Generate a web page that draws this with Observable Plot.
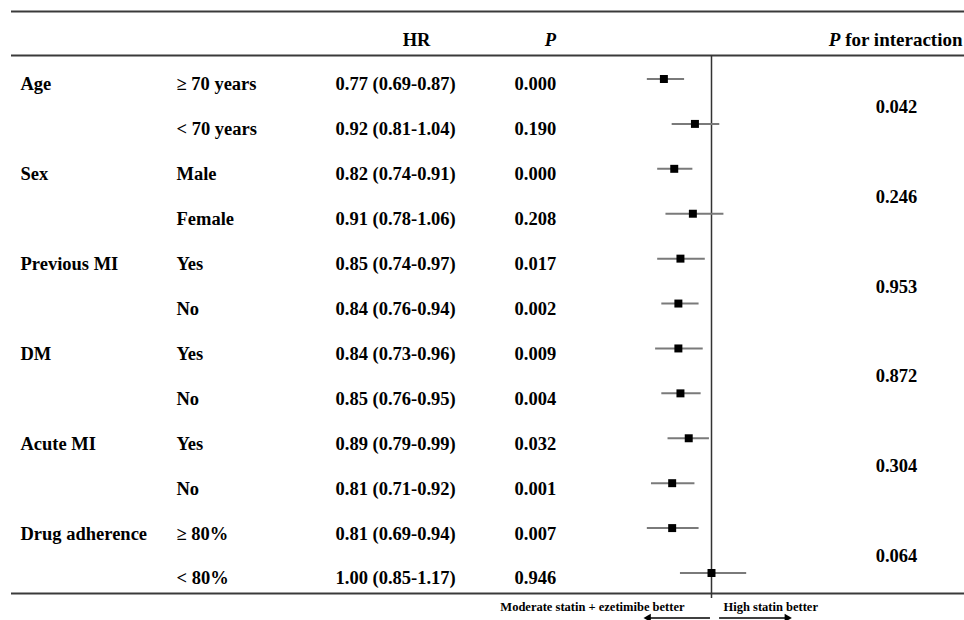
<!DOCTYPE html>
<html>
<head>
<meta charset="utf-8">
<script src="https://cdn.jsdelivr.net/npm/d3@7"></script>
<script src="https://cdn.jsdelivr.net/npm/@observablehq/plot@0.6"></script>
<style>
  html, body { margin: 0; padding: 0; background: #fff; }
  #chart svg { display: block; }
</style>
</head>
<body>
<div id="chart"></div>
<script>
// ---- Data ----
const groups = ["Age", "", "Sex", "", "Previous MI", "", "DM", "", "Acute MI", "", "Drug adherence", ""];
const subgroups = ["≥ 70 years", "< 70 years", "Male", "Female", "Yes", "No", "Yes", "No", "Yes", "No", "≥ 80%", "< 80%"];
const hr = [0.77, 0.92, 0.82, 0.91, 0.85, 0.84, 0.84, 0.85, 0.89, 0.81, 0.81, 1.00];
const lo = [0.69, 0.81, 0.74, 0.78, 0.74, 0.76, 0.73, 0.76, 0.79, 0.71, 0.69, 0.85];
const hi = [0.87, 1.04, 0.91, 1.06, 0.97, 0.94, 0.96, 0.95, 0.99, 0.92, 0.94, 1.17];
const pvals = ["0.000", "0.190", "0.000", "0.208", "0.017", "0.002", "0.009", "0.004", "0.032", "0.001", "0.007", "0.946"];
const pInteraction = ["0.042", "0.246", "0.953", "0.872", "0.304", "0.064"];
const headers = ["HR", "P", "P for interaction"];
const directionLabels = ["Moderate statin + ezetimibe better", "High statin better"];

// ---- Table built from arrays ----
const n = hr.length;
const last = n - 1;
const rows = hr.map((h, i) => ({
  i,
  group: groups[i],
  sub: subgroups[i],
  hr: h, lo: lo[i], hi: hi[i],
  hrText: `${h.toFixed(2)} (${lo[i].toFixed(2)}-${hi[i].toFixed(2)})`,
  p: pvals[i]
}));
const inter = pInteraction.map((p, k) => ({ y: 2 * k + 0.5, p }));

const FS = 18.5;
const textDy = 5.5;
const base = { fontWeight: "bold", fontSize: FS, dy: textDy, lineAnchor: "middle" };
const arrowY = last + 1.0;

const plot = Plot.plot({
  width: 964,
  height: 620,
  margin: 0,
  style: { fontFamily: "'Liberation Serif', 'Times New Roman', serif", color: "#000", background: "#fff", overflow: "visible" },
  x: { type: "linear", domain: [0.5, 1.5], range: [607.5, 814.5], axis: null },
  y: { type: "linear", domain: [0, last], range: [78.5, 572.5], axis: null },
  marks: [
    // table rules
    Plot.ruleY([-1.503, -0.523], { stroke: "#3a3a3a", strokeWidth: 2, insetLeft: 11 }),
    Plot.ruleY([last + 0.459], { stroke: "#3a3a3a", strokeWidth: 2, insetLeft: 11 }),
    // reference line at HR = 1
    Plot.ruleX([1], { y1: -0.523, y2: last + 0.57, stroke: "#333", strokeWidth: 1.5 }),
    // CIs
    Plot.ruleY(rows, { y: "i", x1: "lo", x2: "hi", stroke: "#7a7a7a", strokeWidth: 2 }),
    // point estimates
    Plot.dot(rows, { x: "hr", y: "i", symbol: "square", r: 4.5, fill: "#000", stroke: "none" }),
    // text columns
    Plot.text(rows, { ...base, y: "i", text: "group", frameAnchor: "left", dx: 20, textAnchor: "start" }),
    Plot.text(rows, { ...base, y: "i", text: "sub", frameAnchor: "left", dx: 176, textAnchor: "start" }),
    Plot.text(rows, { ...base, y: "i", text: "hrText", frameAnchor: "left", dx: 335, textAnchor: "start" }),
    Plot.text(rows, { ...base, y: "i", text: "p", frameAnchor: "left", dx: 514, textAnchor: "start" }),
    Plot.text(inter, { ...base, y: "y", text: "p", frameAnchor: "left", dx: 896, textAnchor: "middle" }),
    // headers
    Plot.text([headers[0]], { ...base, y: () => -1, text: d => d, frameAnchor: "left", dx: 416, textAnchor: "middle" }),
    Plot.text([headers[1]], { ...base, y: () => -1, text: d => d, frameAnchor: "left", dx: 550, textAnchor: "middle", fontStyle: "italic" }),
    Plot.text([headers[2]], { ...base, fontSize: 19, y: () => -1, text: d => d, frameAnchor: "right", dx: -2, textAnchor: "end" }),
    // direction labels
    Plot.text([directionLabels[0]], { x: () => 1, text: d => d, frameAnchor: "bottom", dy: -14, dx: -27, textAnchor: "end", fontWeight: "bold", fontSize: 12.5, lineAnchor: "middle" }),
    Plot.text([directionLabels[1]], { x: () => 1, text: d => d, frameAnchor: "bottom", dy: -14, dx: 12, textAnchor: "start", fontWeight: "bold", fontSize: 12.5, lineAnchor: "middle" }),
    // arrows
    Plot.ruleY([arrowY], { x1: 0.995, x2: 0.70, stroke: "#000", strokeWidth: 1.5 }),
    Plot.ruleY([arrowY], { x1: 1.039, x2: 1.36, stroke: "#000", strokeWidth: 1.5 }),
    Plot.dot([0.695], { x: d => d, y: () => arrowY, symbol: "triangle2", r: 4, fill: "#000", rotate: -90 }),
    Plot.dot([1.365], { x: d => d, y: () => arrowY, symbol: "triangle2", r: 4, fill: "#000", rotate: 90 })
  ]
});

// italic P in the interaction header
plot.querySelectorAll("text").forEach(t => {
  if (t.textContent === "P for interaction") {
    const holder = t.querySelector("tspan") || t;
    holder.textContent = "";
    const ns = "http://www.w3.org/2000/svg";
    const a = document.createElementNS(ns, "tspan");
    a.setAttribute("font-style", "italic");
    a.textContent = "P";
    const b = document.createElementNS(ns, "tspan");
    b.textContent = " for interaction";
    holder.appendChild(a);
    holder.appendChild(b);
  }
});

document.getElementById("chart").appendChild(plot);
</script>
</body>
</html>
